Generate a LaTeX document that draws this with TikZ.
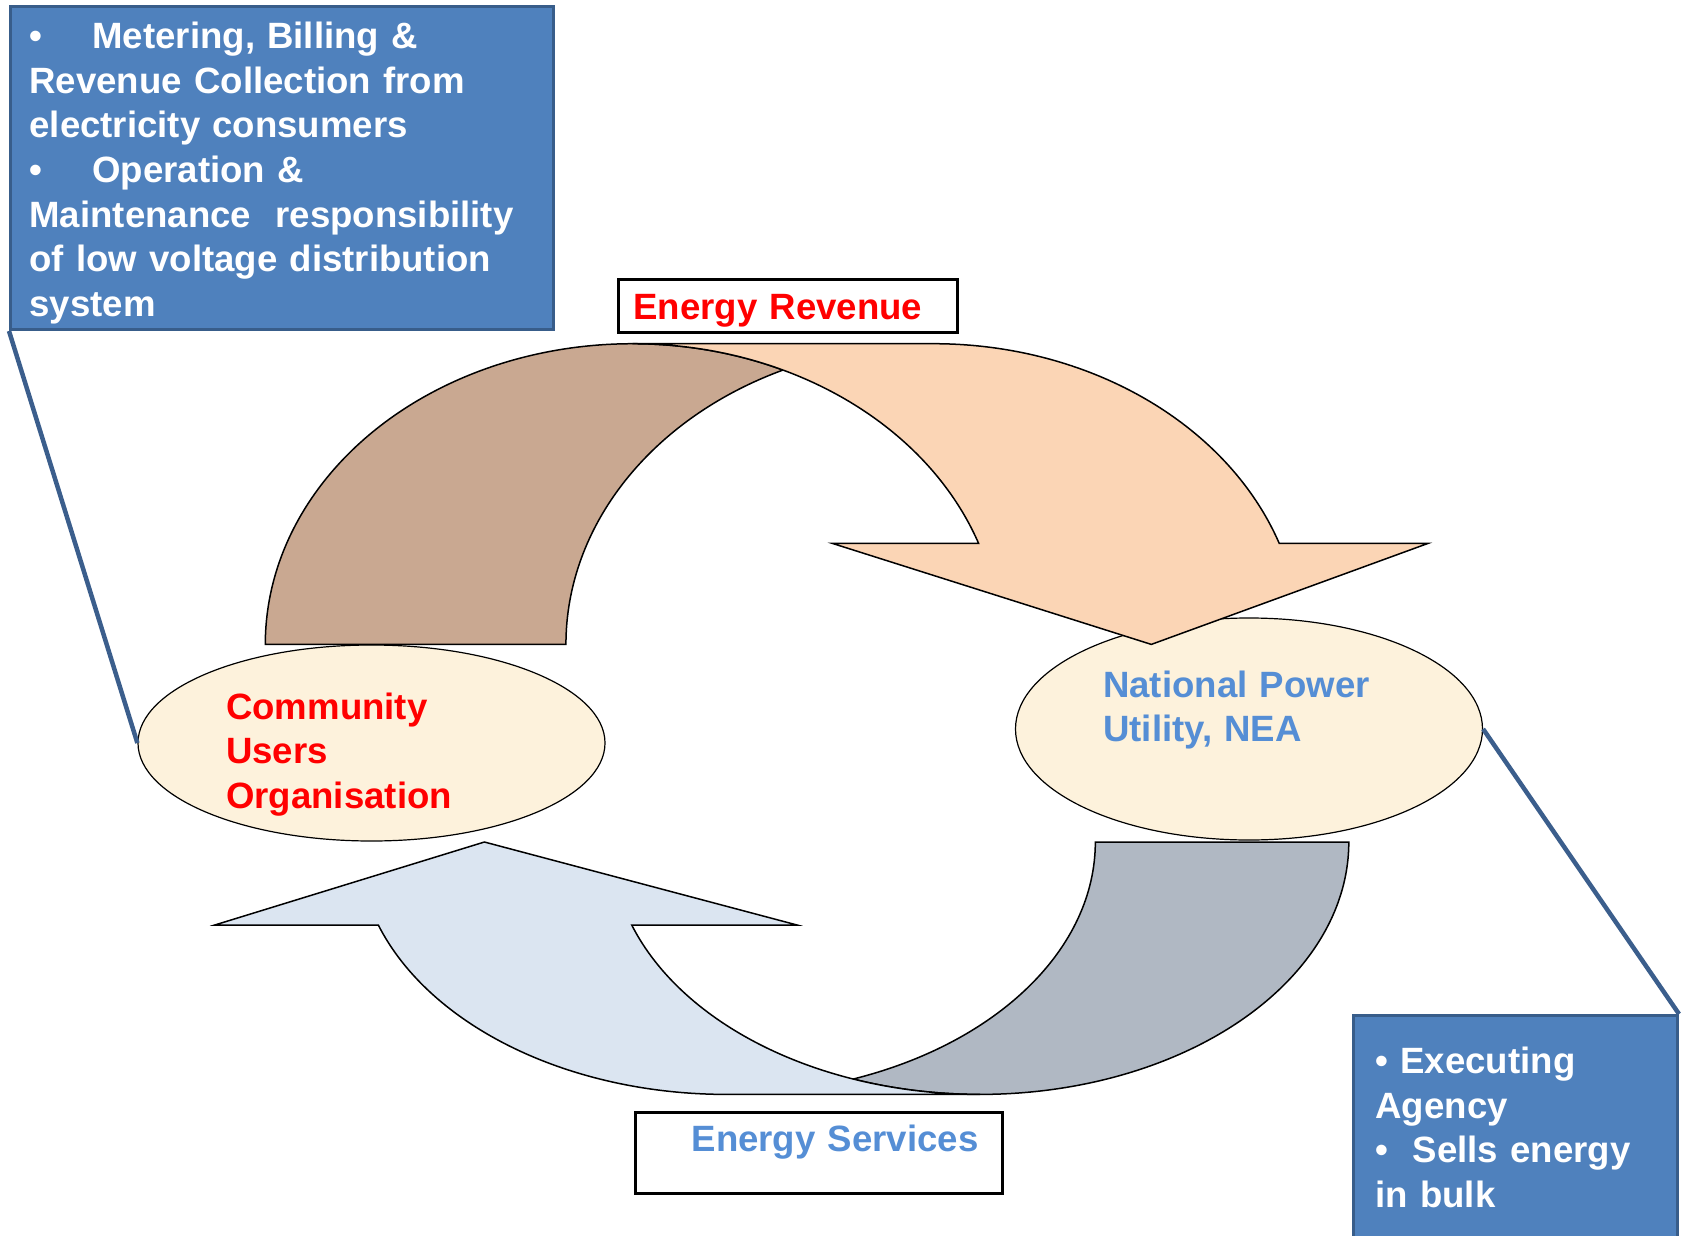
\documentclass[tikz,border=0pt]{standalone}
\usepackage{fontspec}
\setmainfont{Liberation Sans}
\usepackage{tikz}
\usetikzlibrary{shapes.geometric,positioning}
\definecolor{boxblue}{RGB}{79,129,189}
\definecolor{boxborder}{RGB}{56,93,138}
\definecolor{calloutblue}{RGB}{59,94,140}
\definecolor{revbrown}{RGB}{201,168,145}
\definecolor{revpeach}{RGB}{251,213,181}
\definecolor{svclight}{RGB}{219,229,241}
\definecolor{svcgrey}{RGB}{176,184,195}
\definecolor{partycream}{RGB}{253,242,220}
\definecolor{neablue}{RGB}{85,142,213}
\newcommand{\diagfont}{\fontsize{36.6}{44.7}\selectfont\bfseries}
\tikzset{
    % Blue note boxes (white bullet text)
    notebox/.style={
        draw=boxborder, fill=boxblue, line width=3pt,
        text=white, font=\diagfont, align=left,
        anchor=north west, inner ysep=0pt
    },
    % The two parties of the scheme
    party/.style={
        ellipse, draw=black, fill=partycream,
        minimum width=467pt, line width=1.2pt, inner sep=0pt
    },
    partylabel/.style={
        font=\diagfont, align=left, anchor=base west, inner sep=0pt
    },
    % Framed flow labels
    flowlabel/.style={
        draw=black, line width=3pt, font=\diagfont,
        anchor=north west, inner ysep=0pt
    },
    % Curved arrow bands
    band/.style={draw=black, line width=1.5pt, line join=miter},
    revarc/.style={x radius=367.3pt, y radius=300.7pt},
    svcarc/.style={x radius=368.8pt, y radius=252.4pt},
    % Lines from notes to parties
    callout/.style={draw=calloutblue, line width=4.5pt}
}
\begin{document}
\begin{tikzpicture}[x=1pt, y=-1pt]
  \useasboundingbox (0,0) rectangle (1684,1236);

  % parties
  \node[party, minimum height=196pt] (cuo) at (371.5,743) {};
  \node[party, minimum height=222pt] (nea) at (1249,729) {};
  \node[partylabel, text=red, text width=300pt] (cuolabel) at (226,719)
    {Community\\Users\\Organisation};
  \node[partylabel, text=neablue, text width=320pt] (nealabel) at (1103,697)
    {National Power\\Utility, NEA};

  % energy revenue: back part, then front part with head
  \draw[band, fill=revbrown] (265.3,644.4)
    arc[revarc, start angle=180, end angle=65.84]
    arc[revarc, start angle=114.16, end angle=180] -- cycle;
  \draw[band, fill=revpeach] (632.6,343.7) -- (933.3,343.7)
    arc[revarc, start angle=90, end angle=19.63]
    -- (1428,543.4) -- (1151.3,644.4) -- (832.4,543.4) -- (978.6,543.4)
    arc[revarc, start angle=19.63, end angle=90] -- cycle;

  % energy services: back part, then front part with head
  \draw[band, fill=svcgrey] (1095.4,842) -- (1348.8,842)
    arc[svcarc, start angle=0, end angle=-110.1]
    arc[svcarc, start angle=-69.9, end angle=0] -- cycle;
  \draw[band, fill=svclight] (378.3,925)
    arc[svcarc, start angle=199.2, end angle=270] -- (980,1094.4)
    arc[svcarc, start angle=270, end angle=199.2]
    -- (797,925) -- (484.4,842) -- (214.8,925) -- cycle;

  % flow labels
  \node[flowlabel, text=red, text width=309pt, inner xsep=15pt, align=left,
        text height=40pt, text depth=13pt] (revlabel) at (617,278) {Energy Revenue};
  \node[flowlabel, text=neablue, text width=319pt, inner xsep=24pt, align=right,
        text height=39pt, text depth=42pt] (svclabel) at (634,1111) {Energy Services};

  % notes
  \node[notebox, text width=505pt, inner xsep=19pt,
        text height=42pt, text depth=281pt] (cuonote) at (9,5)
    {\makebox[63pt][l]{•}Metering, Billing \&\\
     Revenue Collection from\\
     electricity consumers\\
     \makebox[63pt][l]{•}Operation \&\\
     Maintenance\ \ responsibility\\
     of low voltage distribution\\
     system};
  \node[notebox, text width=280pt, inner xsep=22pt,
        text height=58pt, text depth=166pt] (neanote) at (1352,1014)
    {• Executing\\
     Agency\\
     •\ \ Sells energy\\
     in bulk};

  \draw[callout] (cuonote.south west) -- (cuo.west);
  \draw[callout] (nea.east) -- (neanote.north east);
\end{tikzpicture}
\end{document}
